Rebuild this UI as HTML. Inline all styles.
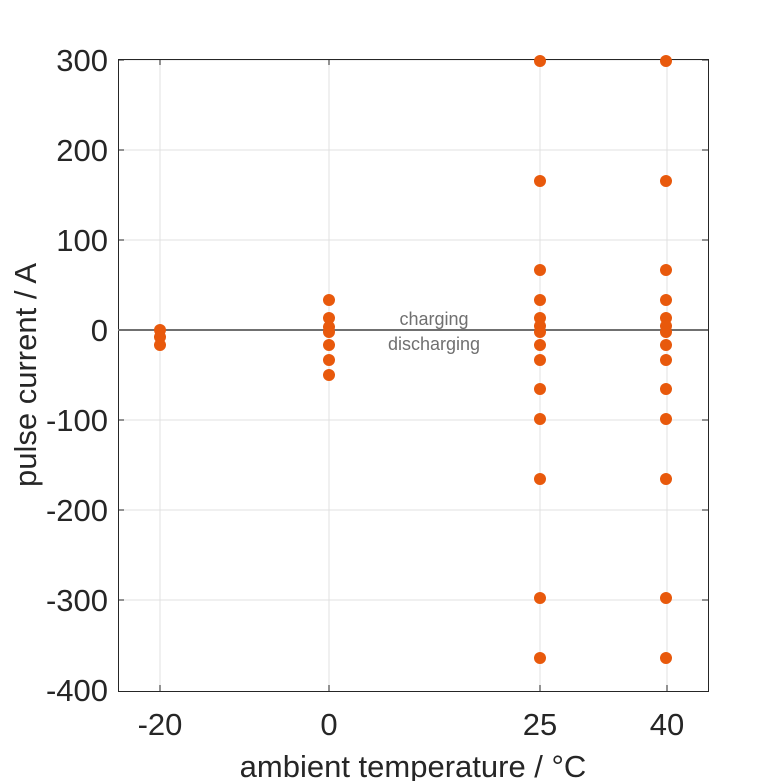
<!DOCTYPE html>
<html><head><style>body{margin:0;background:#fff}svg{display:block}</style></head><body>
<svg width="781" height="781" xmlns="http://www.w3.org/2000/svg" font-family="Liberation Sans, sans-serif">
<rect width="781" height="781" fill="#fff"/>
<g stroke="#e0e0e0" stroke-width="1">
<line x1="160" y1="59" x2="160" y2="691"/><line x1="329" y1="59" x2="329" y2="691"/>
<line x1="540" y1="59" x2="540" y2="691"/><line x1="667" y1="59" x2="667" y2="691"/>
<line x1="118" y1="60" x2="708" y2="60"/><line x1="118" y1="150" x2="708" y2="150"/>
<line x1="118" y1="240" x2="708" y2="240"/><line x1="118" y1="420" x2="708" y2="420"/>
<line x1="118" y1="510" x2="708" y2="510"/><line x1="118" y1="600" x2="708" y2="600"/>
</g>
<rect x="118.5" y="59.5" width="590" height="632" fill="none" stroke="#262626" stroke-width="1"/>
<g stroke="#262626"><line x1="160" y1="691" x2="160" y2="685"/><line x1="329" y1="691" x2="329" y2="685"/><line x1="540" y1="691" x2="540" y2="685"/><line x1="667" y1="691" x2="667" y2="685"/>
<line x1="160" y1="59" x2="160" y2="65"/><line x1="329" y1="59" x2="329" y2="65"/><line x1="540" y1="59" x2="540" y2="65"/><line x1="667" y1="59" x2="667" y2="65"/>
<line x1="118" y1="60" x2="124" y2="60"/><line x1="118" y1="150" x2="124" y2="150"/><line x1="118" y1="240" x2="124" y2="240"/><line x1="118" y1="420" x2="124" y2="420"/><line x1="118" y1="510" x2="124" y2="510"/><line x1="118" y1="600" x2="124" y2="600"/>
<line x1="708" y1="60" x2="702" y2="60"/><line x1="708" y1="150" x2="702" y2="150"/><line x1="708" y1="240" x2="702" y2="240"/><line x1="708" y1="420" x2="702" y2="420"/><line x1="708" y1="510" x2="702" y2="510"/><line x1="708" y1="600" x2="702" y2="600"/></g>
<line x1="118" y1="330" x2="708" y2="330" stroke="#707070" stroke-width="2"/>
<text x="434" y="325" font-size="18" fill="#707070" text-anchor="middle">charging</text>
<text x="434" y="350" font-size="18" fill="#707070" text-anchor="middle">discharging</text>
<g font-size="31" fill="#262626" text-anchor="end">
<text x="108" y="71">300</text><text x="108" y="161">200</text><text x="108" y="251">100</text><text x="108" y="341">0</text>
<text x="108" y="431">-100</text><text x="108" y="521">-200</text><text x="108" y="611">-300</text><text x="108" y="701">-400</text></g>
<g font-size="31" fill="#262626" text-anchor="middle">
<text x="160" y="735">-20</text><text x="329" y="735">0</text><text x="540" y="735">25</text><text x="667" y="735">40</text>
<text x="413" y="777">ambient temperature / °C</text>
<text transform="translate(36,375) rotate(-90)">pulse current / A</text></g>
<g fill="#e8590c">
<circle cx="160" cy="330" r="6"/><circle cx="160" cy="337" r="6"/><circle cx="160" cy="345" r="6"/>
<circle cx="329" cy="300" r="6"/><circle cx="329" cy="318" r="6"/><circle cx="329" cy="327" r="6"/><circle cx="329" cy="332" r="6"/><circle cx="329" cy="345" r="6"/><circle cx="329" cy="360" r="6"/><circle cx="329" cy="375" r="6"/>
<g id="c"><circle cx="540" cy="61" r="6"/><circle cx="540" cy="181" r="6"/><circle cx="540" cy="270" r="6"/><circle cx="540" cy="300" r="6"/><circle cx="540" cy="318" r="6"/><circle cx="540" cy="326" r="6"/><circle cx="540" cy="332" r="6"/><circle cx="540" cy="345" r="6"/><circle cx="540" cy="360" r="6"/><circle cx="540" cy="389" r="6"/><circle cx="540" cy="419" r="6"/><circle cx="540" cy="479" r="6"/><circle cx="540" cy="598" r="6"/><circle cx="540" cy="658" r="6"/></g>
<use href="#c" x="126"/>
</g>
</svg>
</body></html>
